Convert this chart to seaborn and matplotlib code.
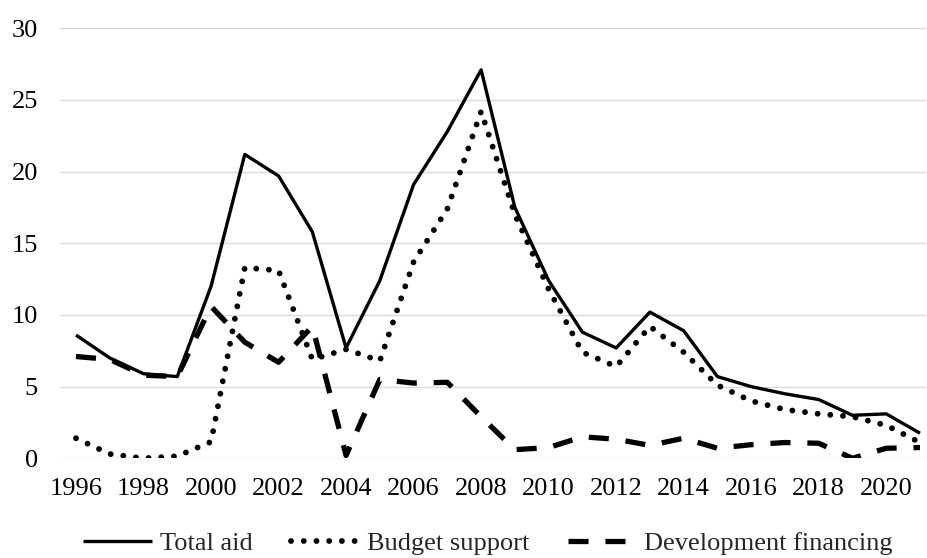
import matplotlib
matplotlib.use("Agg")
import matplotlib.pyplot as plt
import seaborn as sns
import pandas as pd

years = list(range(1996, 2022))
total_aid = [8.6, 7.0, 5.9, 5.7, 12.0, 21.2, 19.7, 15.8, 7.7, 12.4, 19.1, 22.8, 27.1,
             17.5, 12.4, 8.8, 7.7, 10.2, 8.9, 5.7, 5.0, 4.5, 4.1, 3.0, 3.1, 1.75]
budget_support = [1.4, 0.3, 0.0, 0.15, 1.15, 13.3, 13.1, 6.9, 7.6, 6.8, 13.7, 17.4, 24.2,
                  17.0, 11.8, 7.4, 6.4, 9.2, 7.4, 5.1, 4.0, 3.4, 3.1, 2.9, 2.3, 1.1]
dev_financing = [7.1, 6.9, 5.8, 5.7, 10.6, 8.1, 6.7, 9.2, 0.2, 5.5, 5.25, 5.3, 2.9,
                 0.6, 0.75, 1.5, 1.33, 0.9, 1.4, 0.7, 0.95, 1.1, 1.05, 0.0, 0.7, 0.75]
series_names = ["Total aid", "Budget support", "Development financing"]
x_ticks = list(range(1996, 2021, 2))
y_ticks = [0, 5, 10, 15, 20, 25, 30]

df = pd.DataFrame({
    "year": years * 3,
    "value": total_aid + budget_support + dev_financing,
    "series": [series_names[0]] * len(years) + [series_names[1]] * len(years)
              + [series_names[2]] * len(years),
})

sns.set_theme(style="white")
plt.rcParams["font.family"] = ["Liberation Serif", "DejaVu Serif"]
FS = 19

fig = plt.figure(figsize=(9.28, 5.58), dpi=100)
ax = fig.add_axes([60 / 928, 1 - 458.3 / 558, 866 / 928, 430 / 558])

styles = {
    "Total aid": dict(linewidth=2.4, linestyle="-", solid_capstyle="butt"),
    "Budget support": dict(linewidth=4.2, linestyle=(0, (0.01, 2.17)), dash_capstyle="round"),
    "Development financing": dict(linewidth=3.8, linestyle=(0, (3.8, 3.2)), dash_capstyle="butt"),
}
for name in series_names:
    sub = df[df["series"] == name]
    sns.lineplot(data=sub, x="year", y="value", ax=ax, color="black", label=name,
                 **styles[name])

ax.set_xlim(1996 - 16 / 33.75, 2021 + 6 / 33.75)
ax.set_ylim(0, 30)
ax.set_xticks(x_ticks)
ax.set_xticklabels([str(t) for t in x_ticks], fontsize=FS)
ax.set_yticks(y_ticks)
ax.set_yticklabels([str(t) for t in y_ticks], fontsize=FS)
ax.tick_params(axis="both", length=0, colors="black")
ax.tick_params(axis="y", pad=16)
ax.tick_params(axis="x", pad=14)
ax.grid(axis="y", color="#d9d9d9", linewidth=1.0)
ax.set_axisbelow(True)
for s in ax.spines.values():
    s.set_visible(False)
ax.set_xlabel("")
ax.set_ylabel("")
ax.get_legend().remove()

handles, labels = ax.get_legend_handles_labels()
fig.legend(handles, labels, loc="center", bbox_to_anchor=(488 / 928, 1 - 543 / 558),
           ncol=3, frameon=False, fontsize=FS, handlelength=2.6, handletextpad=0.3,
           columnspacing=1.45)

fig.savefig("out.png", dpi=100)
